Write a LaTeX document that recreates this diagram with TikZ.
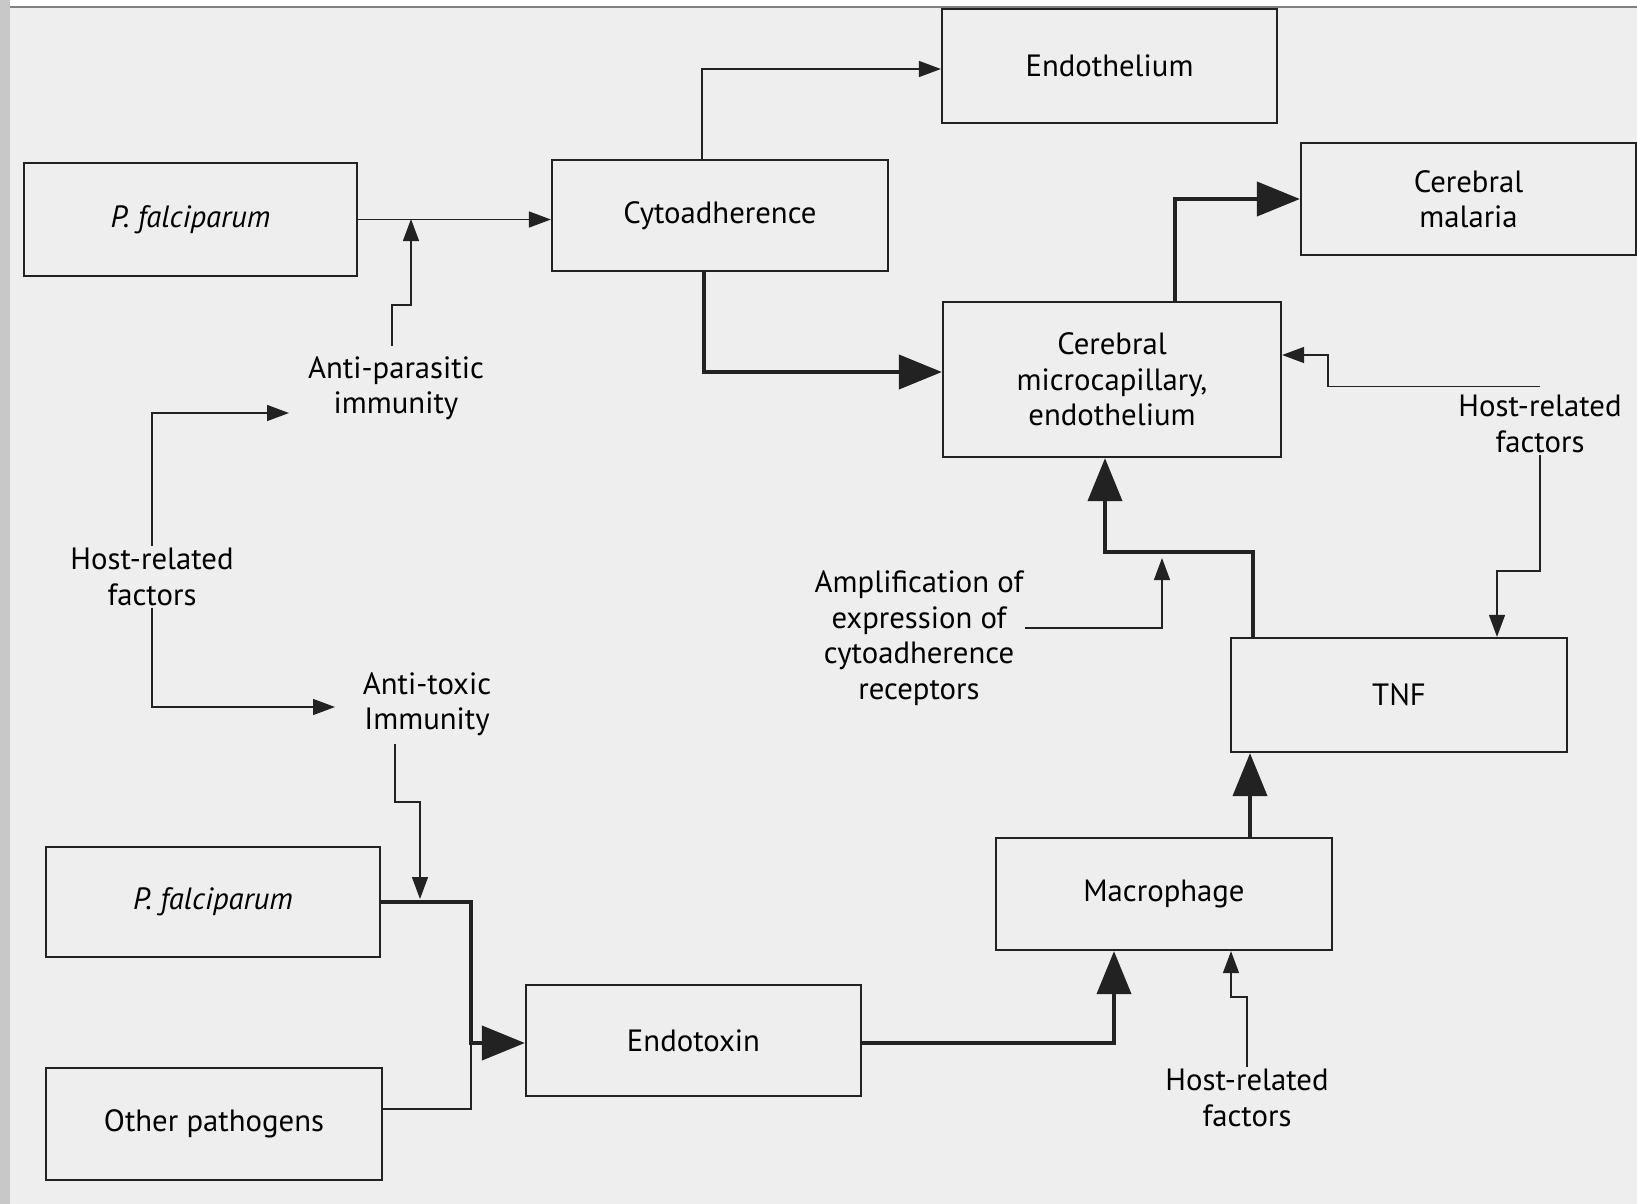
\documentclass[tikz,border=0pt]{standalone}
\usepackage{fontspec}
\setmainfont{PT Sans}
\usepackage{xcolor}
\usepackage{tikz}
\definecolor{ink}{HTML}{222222}
\definecolor{paper}{HTML}{EEEEEE}
\definecolor{margin}{HTML}{C8C8C8}
\usetikzlibrary{arrows.meta}
\usetikzlibrary{positioning}

\begin{document}
\begin{tikzpicture}[x=0.02cm, y=-0.02cm,
		box/.style={draw=ink, line width=1.3pt, inner sep=0pt, align=center},
		lbl/.style={align=center, inner sep=1pt},
		thinline/.style={draw=ink, line width=0.8pt},
		thickline/.style={draw=ink, line width=2.3pt},
		smalltip/.style={-{Triangle[length=0.44cm, width=0.32cm]}},
		bigtip/.style={-{Triangle[length=0.86cm, width=0.68cm]}},
		font=\fontsize{17.5}{20.2}\selectfont]

		%Seite
		\useasboundingbox (0,0) rectangle (1637,1204);
		\fill [paper] (0,0) rectangle (1637,1204);
		\fill [white] (0,0) rectangle (1637,7);
		\fill [margin] (0,0) rectangle (10,1204);
		\draw [gray, line width=0.8pt] (10,7) -- (1637,7);

		%Kaesten
		\node [box, minimum width=6.66cm, minimum height=2.26cm] (pf1) at (190.5,219.5) {\textit{P. falciparum}};
		\node [box, minimum width=6.72cm, minimum height=2.22cm] (cyto) at (720,215.5) {Cytoadherence};
		\node [box, minimum width=6.70cm, minimum height=2.28cm] (endo) at (1109.5,66) {Endothelium};
		\node [box, minimum width=6.70cm, minimum height=2.24cm] (cmal) at (1468.5,199) {Cerebral\\malaria};
		\node [box, minimum width=6.76cm, minimum height=3.10cm] (cmic) at (1112,379.5) {Cerebral\\microcapillary,\\endothelium};
		\node [box, minimum width=6.72cm, minimum height=2.28cm] (tnf) at (1399,695) {TNF};
		\node [box, minimum width=6.72cm, minimum height=2.24cm] (mac) at (1164,894) {Macrophage};
		\node [box, minimum width=6.70cm, minimum height=2.22cm] (endotox) at (693.5,1040.5) {Endotoxin};
		\node [box, minimum width=6.68cm, minimum height=2.20cm] (pf2) at (213,902) {\textit{P. falciparum}};
		\node [box, minimum width=6.72cm, minimum height=2.24cm] (other) at (214,1124) {Other pathogens};

		%Beschriftungen
		\node [lbl] (apar) at (396,388) {Anti-parasitic\\immunity};
		\node [lbl] (hostA) at (152,577) {Host-related\\factors};
		\node [lbl] (atox) at (427,704) {Anti-toxic\\Immunity};
		\node [lbl] (ampl) at (919,638) {Amplification of\\expression of\\cytoadherence\\receptors};
		\node [lbl] (hostB) at (1540,424) {Host-related\\factors};
		\node [lbl] (hostC) at (1247,1098) {Host-related\\factors};

		%Hilfspunkte
		\coordinate (apin) at (411,219);
		\coordinate (apl) at (289,413);
		\coordinate (atl) at (335,707);
		\coordinate (atin) at (420,899);
		\coordinate (jx) at (471,1043);
		\coordinate (amp) at (1105,552);
		\coordinate (ampin) at (1162,558);

		%oben links
		\draw [thinline, smalltip] (pf1.east) -- (pf1.east -| cyto.west);
		\draw [thinline, smalltip] (apar.north -| 392,0) ++(0,-8) -- ++(0,-41) -| (apin);
		\draw [thinline, smalltip] (hostA.north) |- (apl);
		\draw [thinline, smalltip] (hostA.south) |- (atl);
		\draw [thinline, smalltip] (cyto.north -| 702,0) |- (endo.west |- 0,69);
		\draw [thickline, bigtip] (cyto.south -| 704,0) |- (cmic.west |- 0,372);

		%unten links
		\draw [thinline, smalltip] (atox.south -| 395,0) ++(0,6) -- ++(0,58) -| (atin);
		\draw [thickline, bigtip] (pf2.east) -| (jx) -- (jx -| endotox.west);
		\draw [thinline] (other.east |- 0,1109) -| (jx);
		\draw [thickline, bigtip] (endotox.east |- jx) -| (mac.south -| 1114,0);
		\draw [thinline, smalltip] (hostC.north) -- (hostC.north |- 0,997) -| (mac.south -| 1231,0);

		%rechts
		\draw [thickline, bigtip] (mac.north -| 1250,0) -- (tnf.south -| 1250,0);
		\draw [thickline, bigtip] (tnf.north -| 1253,0) |- (amp) -- (cmic.south -| amp);
		\draw [thinline, smalltip] (ampl.east |- 0,628) -| (ampin);
		\draw [thinline, smalltip] (hostB.south) -- (hostB.south |- 0,571) -| (tnf.north -| 1497,0);
		\draw [thinline, smalltip] (hostB.north) ++(0,-7) -- ++(-212,0) |- (cmic.east |- 0,355);
		\draw [thickline, bigtip] (cmic.north -| 1175,0) |- (cmal.west);
\end{tikzpicture}
\end{document}
